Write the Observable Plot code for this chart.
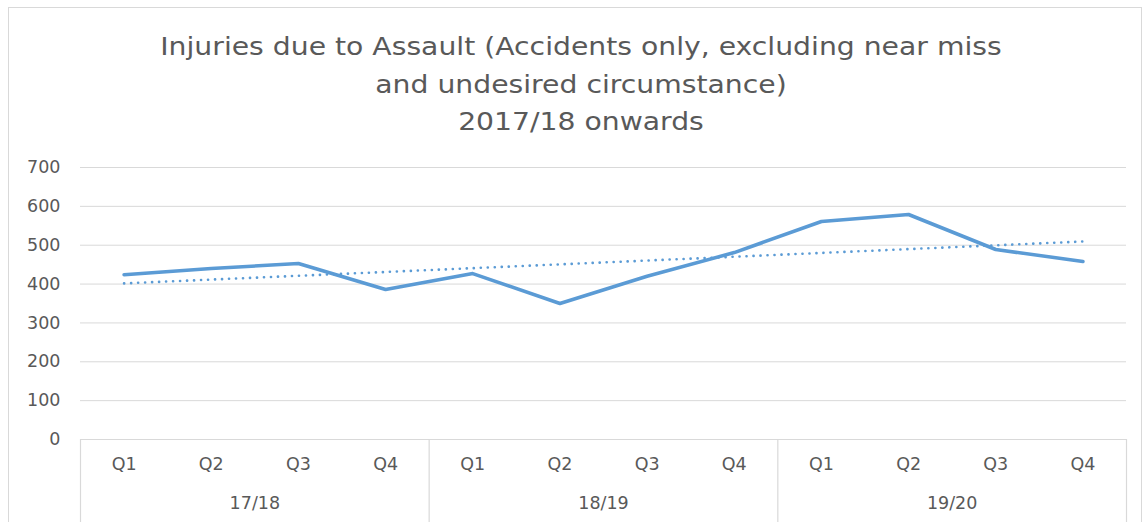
<!DOCTYPE html>
<html>
<head>
<meta charset="utf-8">
<script src="https://cdn.jsdelivr.net/npm/d3@7"></script>
<script src="https://cdn.jsdelivr.net/npm/@observablehq/plot@0.6"></script>
<style>
  html, body { margin: 0; padding: 0; background: #fff; }
  body { width: 1144px; height: 522px; position: relative; overflow: hidden; font-family: "DejaVu Sans", sans-serif; }
  #frame { position: absolute; left: 8px; top: 7px; width: 1134px; height: 530px; border: 1px solid #d9d9d9; box-sizing: border-box; }
  #title { position: absolute; left: 181px; width: 800px; top: 28px; text-align: center; color: #595959; font-size: 25px; line-height: 37.5px; white-space: nowrap; transform: scaleX(1.13); transform-origin: 50% 50%; }
  #chart { position: absolute; left: 0; top: 150px; }
</style>
</head>
<body>
<div id="frame"></div>
<div id="title">
  <div>Injuries due to Assault (Accidents only, excluding near miss</div>
  <div>and undesired circumstance)</div>
  <div>2017/18 onwards</div>
</div>
<div id="chart"></div>
<script>
const years = ["17/18", "18/19", "19/20"];
const quarters = ["Q1", "Q2", "Q3", "Q4"];
const injuries = [424, 440, 453, 386, 427, 350, 420, 481, 561, 579, 489, 458];
const yTicks = [0, 100, 200, 300, 400, 500, 600, 700];

const rows = injuries.map((v, i) => ({i, year: years[Math.floor(i / 4)], quarter: quarters[i % 4], value: v}));
const groups = years.map((y, k) => ({year: y, center: k * 4 + 1.5}));
const separators = d3.range(years.length + 1).map(k => k * 4 - 0.5);

const blue = "#5B9BD5";
const grey = "#d9d9d9";
const textGrey = "#595959";

const chart = Plot.plot({
  width: 1144,
  height: 372,
  marginLeft: 80,
  marginRight: 18,
  marginTop: 17,
  marginBottom: 83,
  style: {fontFamily: "DejaVu Sans, sans-serif", fontSize: "17.5px", color: textGrey, background: "transparent", overflow: "visible"},
  x: {type: "linear", domain: [-0.5, rows.length - 0.5]},
  y: {domain: [0, 700]},
  marks: [
    Plot.gridY(yTicks, {stroke: grey, strokeOpacity: 1, strokeWidth: 1}),
    Plot.ruleX(separators, {y1: 0, y2: -215, stroke: grey, strokeWidth: 1.2, clip: false}),
    Plot.axisY({ticks: yTicks, tickSize: 0, tickPadding: 20, label: null, fill: textGrey, fontSize: 17.5}),
    Plot.axisX({ticks: d3.range(rows.length), tickFormat: i => quarters[i % 4], tickSize: 0, tickPadding: 18, label: null, fill: textGrey, fontSize: 17.5}),
    Plot.text(groups, {x: "center", y: 0, text: "year", dy: 64, lineAnchor: "middle", fill: textGrey, fontSize: 17.5}),
    Plot.linearRegressionY(rows, {x: "i", y: "value", ci: 0, stroke: blue, strokeWidth: 2.6, strokeDasharray: "0.1 6.9", strokeLinecap: "round"}),
    Plot.line(rows, {x: "i", y: "value", stroke: blue, strokeWidth: 3.6, strokeLinejoin: "round", strokeLinecap: "round"})
  ]
});
document.getElementById("chart").appendChild(chart);
</script>
</body>
</html>
